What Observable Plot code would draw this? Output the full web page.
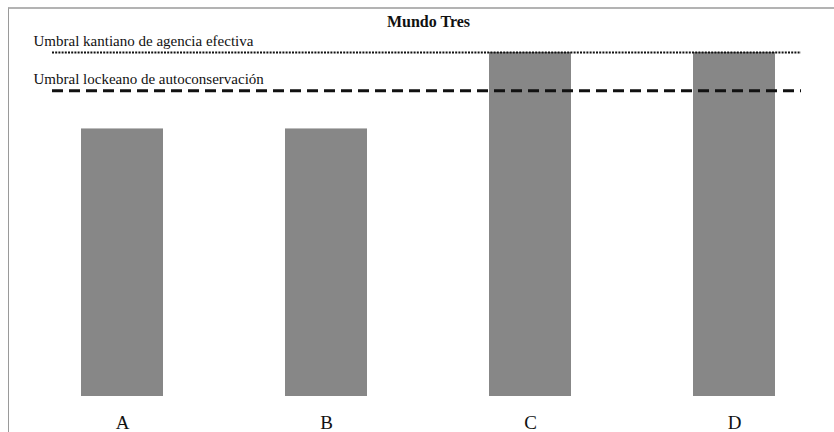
<!DOCTYPE html>
<html>
<head>
<meta charset="utf-8">
<script src="https://cdn.jsdelivr.net/npm/d3@7"></script>
<script src="https://cdn.jsdelivr.net/npm/@observablehq/plot@0.6"></script>
<style>
  html, body { margin: 0; padding: 0; background: #fff; }
  #wrap { position: relative; width: 834px; height: 432px; overflow: hidden; }
  #border { position: absolute; left: 8px; top: 7px; right: 0; bottom: 0;
            border-top: 2px solid #b3b3b3; border-left: 1px solid #9a9a9a; pointer-events: none; }
</style>
</head>
<body>
<div id="wrap"><div id="border"></div></div>
<script>
const title = "Mundo Tres";
const categories = ["A", "B", "C", "D"];
const values = [7, 7, 9, 9];
const thresholdNames = ["Umbral kantiano de agencia efectiva", "Umbral lockeano de autoconservación"];
const thresholdValues = [9, 8];

const bars = categories.map((c, i) => ({cat: c, value: values[i]}));
const serif = "'Liberation Serif', 'DejaVu Serif', serif";

const chart = Plot.plot({
  width: 834,
  height: 432,
  marginTop: 52,
  marginBottom: 36,
  marginLeft: 24,
  marginRight: 2,
  style: {fontFamily: serif, background: "transparent"},
  x: {domain: categories, paddingInner: 0.6, paddingOuter: 0.28, label: null, axis: null},
  y: {domain: [0, 9], axis: null},
  marks: [
    Plot.barY(bars, {x: "cat", y: "value", fill: "#878787"}),
    Plot.axisX({tickSize: 0, tickPadding: 19, fontSize: 19, fill: "#111", label: null}),
    Plot.ruleY([thresholdValues[0]], {stroke: "#111", strokeWidth: 2.2, strokeDasharray: "2,1.2", insetLeft: 28, insetRight: 31}),
    Plot.ruleY([thresholdValues[1]], {stroke: "#111", strokeWidth: 3, strokeDasharray: "11,6", insetLeft: 28, insetRight: 31}),
    Plot.text([0, 1], {
      y: i => thresholdValues[i],
      text: i => thresholdNames[i],
      frameAnchor: "left", dx: 9, dy: -7, lineAnchor: "bottom", textAnchor: "start",
      fontSize: 15, fill: "#111"
    }),
    Plot.text([title], {frameAnchor: "top", dy: -26, lineAnchor: "bottom", fontSize: 16, fontWeight: "bold", fill: "#111"})
  ]
});
document.getElementById("wrap").prepend(chart);
</script>
</body>
</html>
